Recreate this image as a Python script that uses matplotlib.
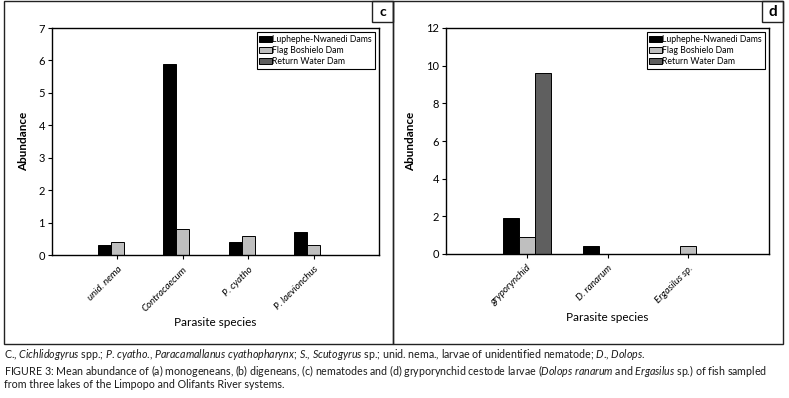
import matplotlib
matplotlib.use("Agg")
import matplotlib.pyplot as plt
from matplotlib.patches import Rectangle
import numpy as np

plt.rcParams['font.family'] = ['Lato', 'DejaVu Sans']
plt.rcParams['mathtext.fontset'] = 'custom'
plt.rcParams['mathtext.rm'] = 'Lato'
plt.rcParams['mathtext.it'] = 'Lato:italic'

series = ["Luphephe-Nwanedi Dams", "Flag Boshielo Dam", "Return Water Dam"]
colors = ["#000000", "#bfbfbf", "#5f5f5f"]

cats_c = ["unid. nema", "Contracaecum", "P. cyatho", "P. laevionchus"]
c_luphephe = [0.3, 5.9, 0.4, 0.7]
c_flag = [0.4, 0.8, 0.6, 0.3]
c_return = [0.0, 0.0, 0.0, 0.0]

cats_d = ["gryporynchid", "D. ranarum", "Ergasilus sp."]
d_luphephe = [1.9, 0.43, 0.0]
d_flag = [0.9, 0.0, 0.43]
d_return = [9.6, 0.0, 0.0]

W, H = 789, 398
fig = plt.figure(figsize=(W / 100, H / 100), dpi=100)


def px_rect(x0, y0, x1, y1):
    return [x0 / W, 1 - y1 / H, (x1 - x0) / W, (y1 - y0) / H]


def frame(x0, y0, x1, y1, lw=1.0):
    r = Rectangle((x0 / W, 1 - y1 / H), (x1 - x0) / W, (y1 - y0) / H,
                  transform=fig.transFigure, fill=False, edgecolor="#222222",
                  linewidth=lw)
    fig.add_artist(r)


# panel frames
frame(4, 1, 393, 344)
frame(393, 1, 783, 344)
# letter boxes
frame(372, 1, 393, 22)
frame(762, 1, 783, 22)
fig.text((372 + 393) / 2 / W, 1 - 11.5 / H, "c", ha="center", va="center",
         fontsize=10, fontweight="bold")
fig.text((762 + 783) / 2 / W, 1 - 11.5 / H, "d", ha="center", va="center",
         fontsize=11, fontweight="bold")


def draw_panel(rect, cats, vals, ymax, ystep, xmax):
    ax = fig.add_axes(rect)
    x = np.arange(1, len(cats) + 1)
    bw = 0.2
    for i, (v, c, s) in enumerate(zip(vals, colors, series)):
        ax.bar(x + (i - 1) * bw, v, width=bw, color=c, edgecolor="black",
               linewidth=0.7, label=s)
    ax.set_xlim(0, xmax)
    ax.set_ylim(0, ymax)
    ax.set_yticks(np.arange(0, ymax + 0.01, ystep))
    ax.set_xticks(x)
    ax.set_xticklabels(cats, rotation=45, ha="right", rotation_mode="anchor",
                       fontstyle="italic", fontsize=7)
    ax.tick_params(axis="y", labelsize=8, length=3, width=0.8, pad=2)
    ax.tick_params(axis="x", length=3, width=0.8, pad=4)
    for sp in ax.spines.values():
        sp.set_linewidth(1.0)
    ax.set_ylabel("Abundance", fontsize=8.5, fontweight="bold", labelpad=7)
    ax.set_xlabel("Parasite species", fontsize=8.5, labelpad=3)
    leg = ax.legend(loc="upper right", fontsize=6.3, frameon=True, fancybox=False,
                    edgecolor="black", framealpha=1, handlelength=1.4,
                    handleheight=0.7, handletextpad=0.1, borderpad=0.3,
                    labelspacing=0.25, borderaxespad=0.5)
    leg.get_frame().set_linewidth(0.8)
    return ax


ax_c = draw_panel(px_rect(52, 28, 379, 255), cats_c,
                  [c_luphephe, c_flag, c_return], 7, 1, 5)
ax_d = draw_panel(px_rect(446, 28, 769, 254), cats_d,
                  [d_luphephe, d_flag, d_return], 12, 2, 4)

cap_size = 7.7
cap_kw = dict(fontsize=cap_size, ha="left", va="center", color="#1a1a1a")
fig.text(4 / W, 1 - 354 / H,
         r"C., $\mathit{Cichlidogyrus}$ spp.; $\mathit{P}$. $\mathit{cyatho}$., "
         r"$\mathit{Paracamallanus\ cyathopharynx}$; $\mathit{S}$., "
         r"$\mathit{Scutogyrus}$ sp.; unid. nema., larvae of unidentified nematode; "
         r"$\mathit{D}$., $\mathit{Dolops}$.", **cap_kw)
fig.text(4 / W, 1 - 371 / H,
         r"FIGURE 3: Mean abundance of (a) monogeneans, (b) digeneans, (c) nematodes "
         r"and (d) gryporynchid cestode larvae ($\mathit{Dolops\ ranarum}$ and "
         r"$\mathit{Ergasilus}$ sp.) of fish sampled", **cap_kw)
fig.text(4 / W, 1 - 384 / H,
         "from three lakes of the Limpopo and Olifants River systems.", **cap_kw)

fig.savefig("out.png", dpi=100)
